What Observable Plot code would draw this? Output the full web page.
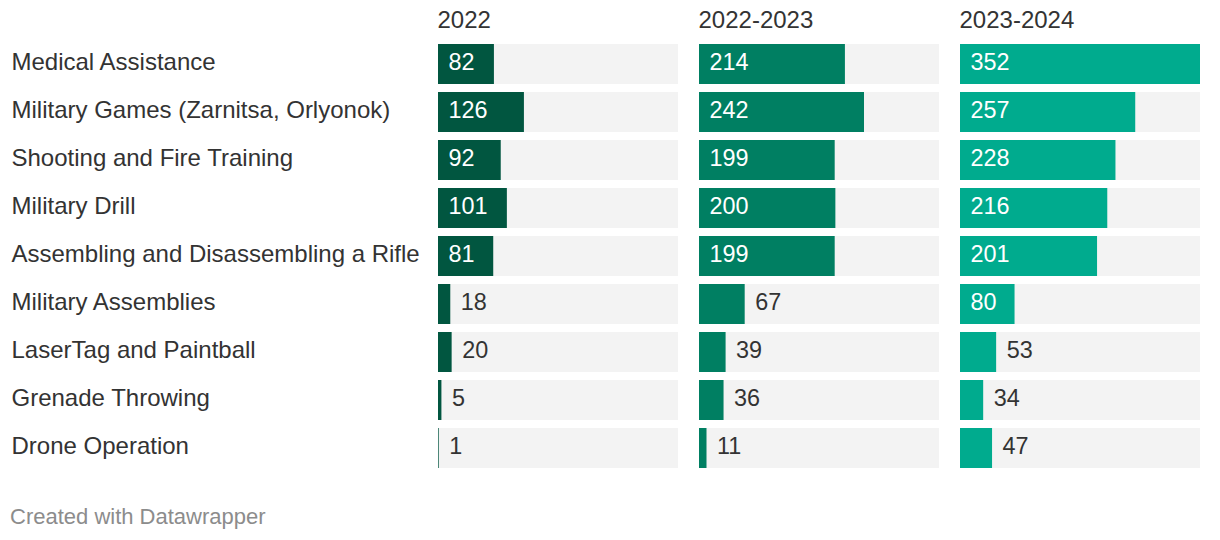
<!DOCTYPE html>
<html>
<head>
<meta charset="utf-8">
<script src="https://cdn.jsdelivr.net/npm/d3@7"></script>
<script src="https://cdn.jsdelivr.net/npm/@observablehq/plot@0.6"></script>
<style>
  html, body { margin: 0; padding: 0; background: #fff; }
  body { width: 1220px; height: 540px; position: relative; font-family: "Liberation Sans", Arial, Helvetica, sans-serif; }
  #caption { position: absolute; left: 10px; top: 506px; font-size: 22px; line-height: 1; color: #8c8c8c; }
</style>
</head>
<body>
<div id="chart"></div>
<div id="caption">Created with Datawrapper</div>
<script>
const categories = [
  "Medical Assistance",
  "Military Games (Zarnitsa, Orlyonok)",
  "Shooting and Fire Training",
  "Military Drill",
  "Assembling and Disassembling a Rifle",
  "Military Assemblies",
  "LaserTag and Paintball",
  "Grenade Throwing",
  "Drone Operation"
];
const periods = ["2022", "2022-2023", "2023-2024"];
const values2022 = [82, 126, 92, 101, 81, 18, 20, 5, 1];
const values2022_2023 = [214, 242, 199, 200, 199, 67, 39, 36, 11];
const values2023_2024 = [352, 257, 228, 216, 201, 80, 53, 34, 47];
const periodColors = ["#015640", "#007f62", "#00ab8e"];
const insideLabelMin = 75;

const series = [values2022, values2022_2023, values2023_2024];
const rows = [];
periods.forEach((p, i) => {
  categories.forEach((c, j) => rows.push({period: p, category: c, value: series[i][j]}));
});
const xMax = d3.max(rows, d => d.value);

const fontSize = 23.4;

const chart = Plot.plot({
  width: 1220,
  height: 480,
  marginLeft: 438,
  marginRight: 20,
  marginTop: 40,
  marginBottom: 8,
  style: {fontFamily: "'Liberation Sans', Arial, Helvetica, sans-serif", background: "#fff"},
  fx: {domain: periods, axis: null, paddingInner: 0.0805, paddingOuter: 0},
  x: {domain: [0, xMax], axis: null},
  y: {domain: categories, axis: null, paddingInner: 1/6, paddingOuter: 1/12},
  color: {domain: periods, range: periodColors},
  marks: [
    Plot.barX(rows, {fx: "period", y: "category", x: () => xMax, fill: "#f3f3f3"}),
    Plot.barX(rows, {fx: "period", y: "category", x: "value", fill: "period"}),
    Plot.text(rows.filter(d => d.value >= insideLabelMin), {
      fx: "period", y: "category", text: d => String(d.value),
      frameAnchor: "left", textAnchor: "start", dx: 10, dy: -2,
      fill: "white", fontSize
    }),
    Plot.text(rows.filter(d => d.value < insideLabelMin), {
      fx: "period", y: "category", x: "value", text: d => String(d.value),
      textAnchor: "start", dx: 10, dy: -2,
      fill: "#333", fontSize
    }),
    Plot.text(periods, {
      fx: d => d, text: d => d,
      frameAnchor: "top-left", textAnchor: "start", lineAnchor: "middle",
      dx: -1, dy: -20, fill: "#333", fontSize: 24
    }),
    Plot.axisY({
      anchor: "left", tickSize: 0, tickPadding: 0, textAnchor: "start",
      dx: -427, dy: -2, fill: "#333", fontSize: 24, label: null
    })
  ]
});
document.getElementById("chart").appendChild(chart);
</script>
</body>
</html>
